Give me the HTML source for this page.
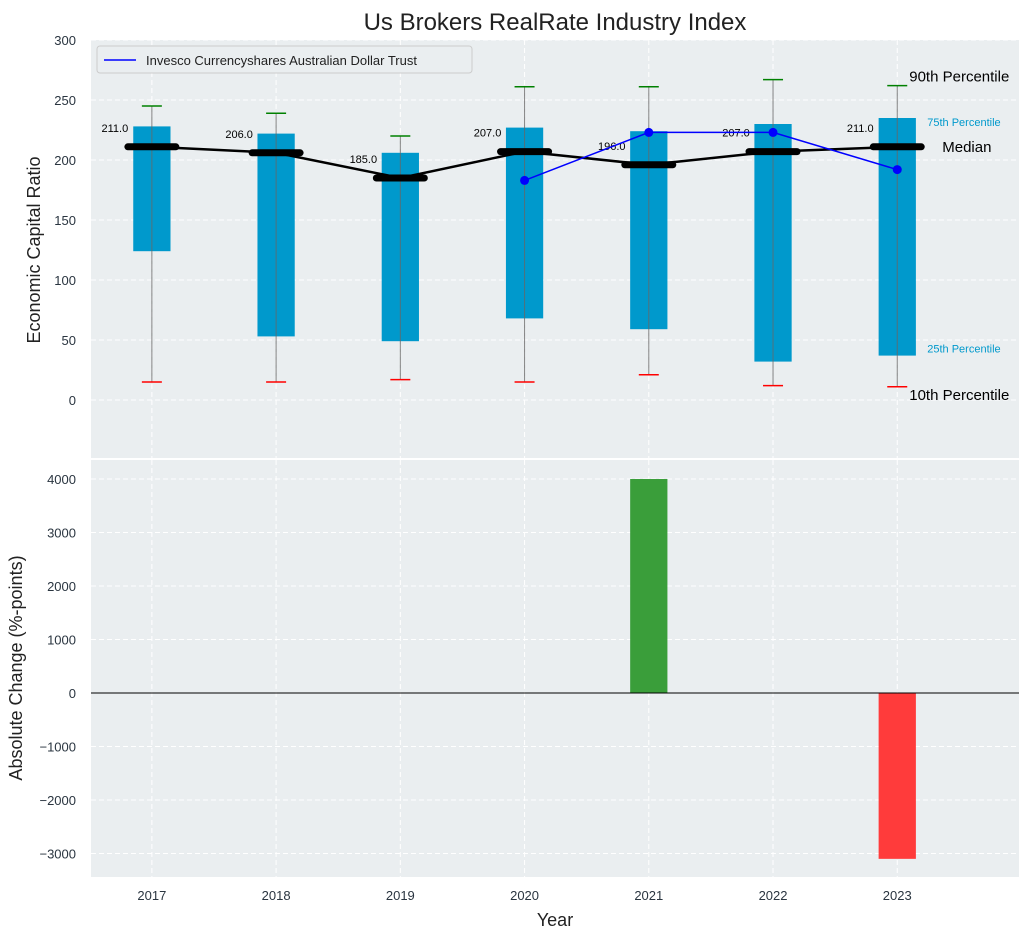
<!DOCTYPE html>
<html><head><meta charset="utf-8"><style>
body{margin:0;background:#fff;font-family:"Liberation Sans","DejaVu Sans",sans-serif}
svg text{font-family:"Liberation Sans","DejaVu Sans",sans-serif}
</style></head><body>
<svg id="c" width="1030" height="940" xmlns="http://www.w3.org/2000/svg"></svg>
<script>
const years=[2017,2018,2019,2020,2021,2022,2023];
const p10=[15,15,17,15,21,12,11];
const p25=[124,53,49,68,59,32,37];
const p75=[228,222,206,227,224,230,235];
const p90=[245,239,220,261,261,267,262];
const medians=[211,206,185,207,196,207,211];
const trustYears=[2020,2021,2022,2023];
const trustVals=[183,223,223,192];
const changeYears=[2021,2023];
const changeVals=[4000,-3100];
const topTicks=[0,50,100,150,200,250,300];
const botTicks=[-3000,-2000,-1000,0,1000,2000,3000,4000];
const botLabels=["\u22123000","\u22122000","\u22121000","0","1000","2000","3000","4000"];

const S=document.getElementById('c');const NS="http://www.w3.org/2000/svg";
function el(t,a,txt,par){const e=document.createElementNS(NS,t);for(const k in a)e.setAttribute(k,a[k]);if(txt!=null)e.textContent=txt;(par||S).appendChild(e);return e;}
const L=91,R=1019;
const x=v=>L+(v-2016.51)/(2023.98-2016.51)*(R-L);
const yT=v=>400-v*1.2;
const yB=v=>693-v*0.0535;
const xu=124.2;
let p=el('rect',{x:L,y:40,width:R-L,height:418,fill:'#eaeef0'});

p=el('rect',{x:L,y:460,width:R-L,height:417,fill:'#eaeef0'});

years.forEach(yv=>{el('line',{x1:x(yv),x2:x(yv),y1:40,y2:458,stroke:'#fff','stroke-dasharray':'5,3'});el('line',{x1:x(yv),x2:x(yv),y1:460,y2:877,stroke:'#fff','stroke-dasharray':'5,3'});
 let t=el('text',{x:x(yv),y:900,'text-anchor':'middle','font-size':13,fill:'#2a3540'},yv);});
topTicks.forEach(v=>{el('line',{x1:L,x2:R,y1:yT(v),y2:yT(v),stroke:'#fff','stroke-dasharray':'5,3'});
 let t=el('text',{x:76,y:yT(v)+5,'text-anchor':'end','font-size':13,fill:'#2a3540'},v);});
botTicks.forEach((v,i)=>{el('line',{x1:L,x2:R,y1:yB(v),y2:yB(v),stroke:'#fff','stroke-dasharray':'5,3'});
 let t=el('text',{x:76,y:yB(v)+5,'text-anchor':'end','font-size':13,fill:'#2a3540'},botLabels[i]);});
years.forEach((yv,i)=>{const cx=x(yv);
 let b=el('rect',{x:cx-0.15*xu,y:yT(p75[i]),width:0.3*xu,height:yT(p25[i])-yT(p75[i]),fill:'#0099cc'});
 el('line',{x1:cx,x2:cx,y1:yT(p90[i]),y2:yT(p10[i]),stroke:'#666','stroke-opacity':0.8,'stroke-width':1});
 let w=el('line',{x1:cx-10,x2:cx+10,y1:yT(p90[i]),y2:yT(p90[i]),stroke:'green','stroke-width':1.5});
 w=el('line',{x1:cx-10,x2:cx+10,y1:yT(p10[i]),y2:yT(p10[i]),stroke:'red','stroke-width':1.5});
});
el('polyline',{points:years.map((yv,i)=>x(yv)+','+yT(medians[i])).join(' '),fill:'none',stroke:'#000','stroke-width':2.5});
years.forEach((yv,i)=>{const cx=x(yv);
 let m=el('line',{x1:cx-24,x2:cx+24,y1:yT(medians[i]),y2:yT(medians[i]),stroke:'#000','stroke-width':7,'stroke-linecap':'round'});
 let t=el('text',{x:cx-37,y:yT(medians[i])-15,'text-anchor':'middle','font-size':11,fill:'#000'},medians[i].toFixed(1));});
el('polyline',{points:trustYears.map((yv,i)=>x(yv)+','+yT(trustVals[i])).join(' '),fill:'none',stroke:'#0000ff','stroke-width':1.5});
trustYears.forEach((yv,i)=>{let c=el('circle',{cx:x(yv),cy:yT(trustVals[i]),r:4.5,fill:'#0000ff'});});
const ax=x(2023);
[[ax+12,yT(p90[6])-4,'90th Percentile',15,'#000'],[ax+30,yT(p75[6])+8,'75th Percentile',11,'#0099cc'],[ax+45,yT(medians[6])+5,'Median',15,'#000'],[ax+30,yT(p25[6])-3,'25th Percentile',11,'#0099cc'],[ax+12,yT(p10[6])+13,'10th Percentile',15,'#000']].forEach(a=>{let t=el('text',{x:a[0],y:a[1],'font-size':a[3],fill:a[4]},a[2]);});
let lg=el('g',{});
el('rect',{x:97,y:46,width:375,height:27,fill:'#eaeef0',stroke:'#ccc',rx:3},null,lg);
el('line',{x1:104,x2:136,y1:60,y2:60,stroke:'#0000ff','stroke-width':1.5},null,lg);
el('text',{x:146,y:65,'font-size':13,fill:'#222'},'Invesco Currencyshares Australian Dollar Trust',lg);
changeYears.forEach((yv,i)=>{const v=changeVals[i];let b=el('rect',{x:x(yv)-0.15*xu,y:Math.min(yB(v),yB(0)),width:0.3*xu,height:Math.abs(yB(v)-yB(0)),fill:v>=0?'#3a9e3a':'#ff3b3b'});});
el('line',{x1:L,x2:R,y1:yB(0),y2:yB(0),stroke:'#000','stroke-width':1});
let t=el('text',{x:555,y:30,'text-anchor':'middle','font-size':24,fill:'#222'},'Us Brokers RealRate Industry Index');
t=el('text',{x:40,y:250,'text-anchor':'middle','font-size':18,fill:'#222',transform:'rotate(-90 40 250)'},'Economic Capital Ratio');
t=el('text',{x:22,y:668,'text-anchor':'middle','font-size':18,fill:'#222',transform:'rotate(-90 22 668)'},'Absolute Change (%-points)');
t=el('text',{x:555,y:926,'text-anchor':'middle','font-size':18,fill:'#222'},'Year');
</script></body></html>
